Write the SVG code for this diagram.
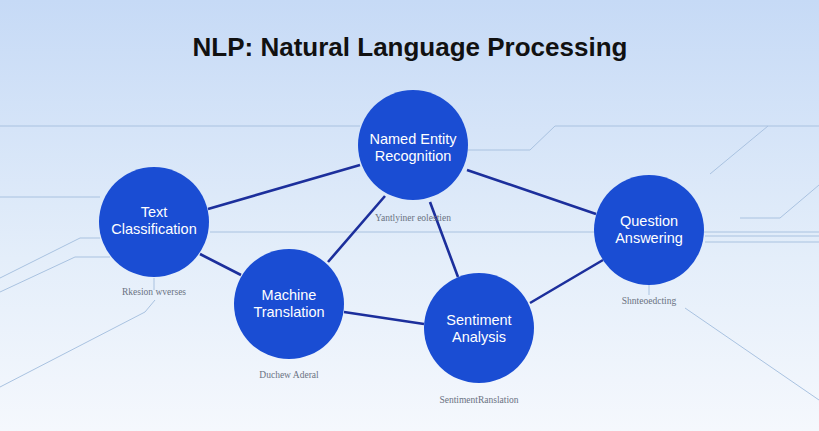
<svg xmlns="http://www.w3.org/2000/svg" width="819" height="431" viewBox="0 0 819 431">
<defs>
<linearGradient id="bg" x1="0" y1="0" x2="0" y2="1"><stop offset="0" stop-color="#c6daf6"/><stop offset="0.6" stop-color="#e4eefa"/><stop offset="1" stop-color="#f5f8fd"/></linearGradient>
<style>
.n{fill:#1a4dd3}
.t{font-family:"Liberation Sans",Arial,sans-serif;font-size:14.5px;fill:#fff;text-anchor:middle}
.s{font-family:"Liberation Serif",serif;font-size:9.5px;fill:#6a7282;text-anchor:middle}
.e{stroke:#1c2f9c;stroke-width:2.6;fill:none}
.b{stroke:#a9c2e0;stroke-width:1;fill:none}
</style>
</defs>
<rect width="819" height="431" fill="url(#bg)"/>
<g id="background-lines">
<path class="b" d="M0 126H360M0 197H100M210 232H819M468 150H530L555 126H819M710 174L768 126M740 218H780L819 185M705 236H819M705 242H819M0 278L80 238H100M0 292L75 257H110M0 387L145 312L155 300M685 308L819 400M154 278V290M649 280V295"/>
</g>
<text x="410" y="56" font-family="'Liberation Sans',Arial,sans-serif" font-size="26" font-weight="bold" fill="#111" text-anchor="middle">NLP: Natural Language Processing</text>
<g id="connectors">
<path class="e" d="M208 209L360 165M200 254L241 275M385 196L328 262M430 202L458 277M467 170L596 214M344 312L424 324M530 303L603 260"/>
</g>
<g id="ner"><circle class="n" cx="413" cy="145" r="55"/><text class="t" x="413" y="144">Named Entity</text><text class="t" x="413" y="161">Recognition</text><text class="s" x="413" y="221">Yantlyiner eolestien</text></g>
<g id="tc"><circle class="n" cx="154" cy="222" r="55"/><text class="t" x="154" y="217">Text</text><text class="t" x="154" y="234">Classification</text><text class="s" x="154" y="295">Rkesion wverses</text></g>
<g id="mt"><circle class="n" cx="289" cy="304" r="55"/><text class="t" x="289" y="300">Machine</text><text class="t" x="289" y="317">Translation</text><text class="s" x="289" y="378">Duchew Aderal</text></g>
<g id="sa"><circle class="n" cx="479" cy="328" r="55"/><text class="t" x="479" y="325">Sentiment</text><text class="t" x="479" y="342">Analysis</text><text class="s" x="479" y="403">SentimentRanslation</text></g>
<g id="qa"><circle class="n" cx="649" cy="230" r="55"/><text class="t" x="649" y="226">Question</text><text class="t" x="649" y="243">Answering</text><text class="s" x="649" y="304">Shnteoedcting</text></g>
</svg>
